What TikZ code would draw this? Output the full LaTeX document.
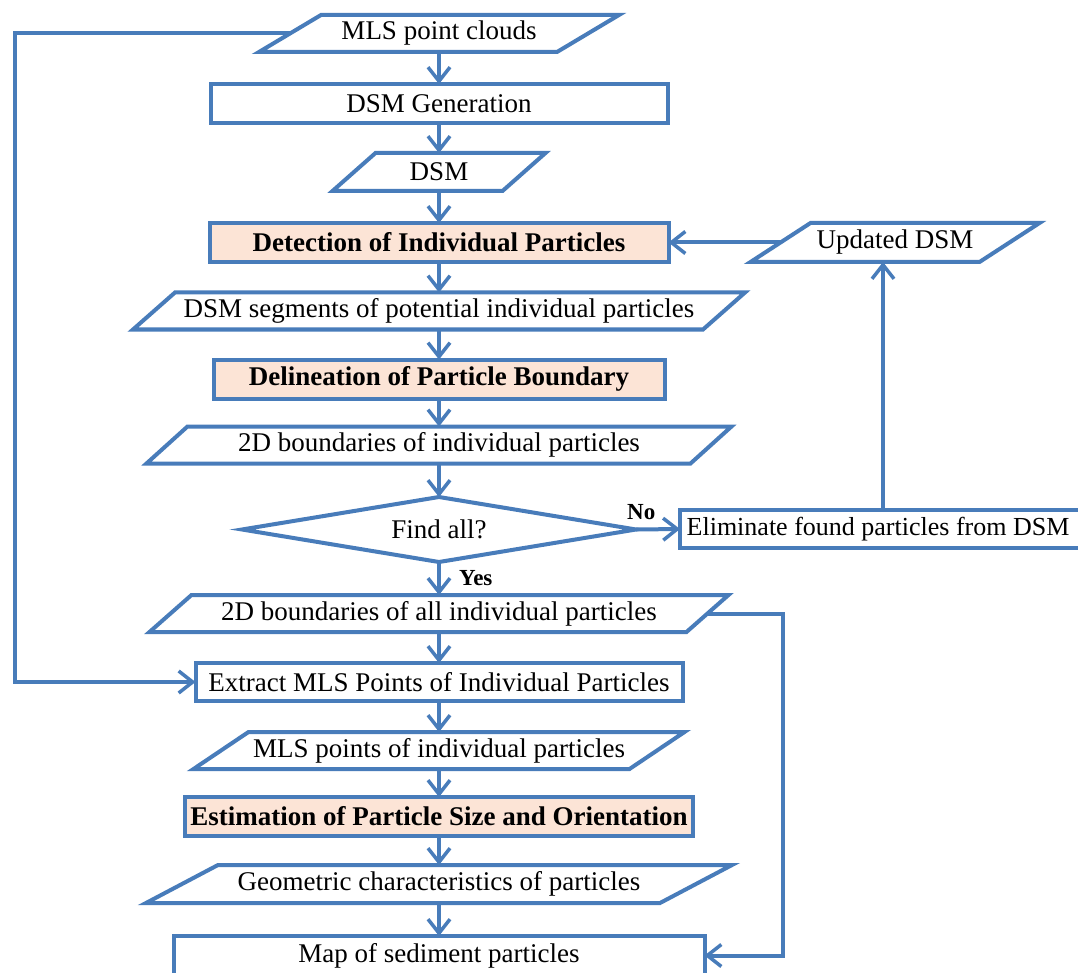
\documentclass[tikz,border=0pt]{standalone}
\usepackage{fontspec}
\setmainfont{Liberation Serif}
\usetikzlibrary{arrows.meta}
\definecolor{lblue}{RGB}{72,124,186}
\definecolor{peach}{RGB}{252,228,214}
\newcommand\txtfont{\fontsize{27}{30}\selectfont}
\newcommand\labfont{\fontsize{23}{26}\selectfont\bfseries}
\newcommand\drawpara[2]{\draw[ln] ([xshift={-0.5*#2}]#1.south west) -- ([xshift={0.5*#2}]#1.north west) -- ([xshift={0.5*#2}]#1.north east) -- ([xshift={-0.5*#2}]#1.south east) -- cycle;}
\tikzset{
  ln/.style={draw=lblue, line width=4pt, line join=miter},
  boxn/.style={rectangle, draw=lblue, line width=4pt, fill=white, inner sep=0pt, outer sep=0pt, font=\txtfont},
  boldn/.style={boxn, fill=peach, font=\txtfont\bfseries},
  paran/.style={rectangle, draw=none, inner sep=0pt, outer sep=0pt, font=\txtfont},
  arr/.style={draw=lblue, line width=4pt, -{Straight Barb[length=14pt,width=22pt,line width=3.5pt]}},
  lab/.style={inner sep=0pt, font=\labfont},
}
\begin{document}
\begin{tikzpicture}[x=1pt, y=-1pt]
\fill[white] (0,0) rectangle (1078,973);
\useasboundingbox (0,0) rectangle (1078,973);

% main column
\node[paran, minimum width=298pt, minimum height=37pt] (mls) at (439,33.5) {MLS point clouds};
\drawpara{mls}{62pt}
\node[boxn, minimum width=457pt, minimum height=39pt] (gen) at (439,103.5) {DSM Generation};
\node[paran, minimum width=170pt, minimum height=38pt] (dsm) at (439,172) {DSM};
\drawpara{dsm}{43pt}
\node[boldn, minimum width=459pt, minimum height=39pt] (det) at (439,242.5) {Detection of Individual Particles};
\node[paran, minimum width=570pt, minimum height=37pt] (seg) at (439,311) {DSM segments of potential individual particles};
\drawpara{seg}{42pt}
\node[boldn, minimum width=451pt, minimum height=39pt] (del) at (439,379) {Delineation of Particle Boundary};
\node[paran, minimum width=544pt, minimum height=37pt] (bnd) at (439,445) {2D boundaries of individual particles};
\drawpara{bnd}{41pt}
\node[paran, minimum width=394pt, minimum height=65pt] (find) at (439,529.5) {Find all?};
\draw[ln] (find.north) -- (find.east) -- (find.south) -- (find.west) -- cycle;
\node[paran, minimum width=537pt, minimum height=37pt] (all) at (439,613.5) {2D boundaries of all individual particles};
\drawpara{all}{42pt}
\node[boxn, minimum width=487pt, minimum height=38pt] (ext) at (439,682) {Extract MLS Points of Individual Particles};
\node[paran, minimum width=436pt, minimum height=37pt] (pts) at (439,750.5) {MLS points of individual particles};
\drawpara{pts}{55pt}
\node[boldn, minimum width=508pt, minimum height=39pt] (est) at (439,816.5) {Estimation of Particle Size and Orientation};
\node[paran, minimum width=514pt, minimum height=38pt] (geo) at (439,884) {Geometric characteristics of particles};
\drawpara{geo}{72pt}
\node[boxn, minimum width=531pt, minimum height=39pt] (map) at (439,955.5) {Map of sediment particles};

% side nodes
\node[boxn, minimum width=406pt, minimum height=38pt, font=\fontsize{26}{30}\selectfont] (elim) at (883,529) {\hspace*{-10pt}Eliminate found particles from DSM};
\node[paran, minimum width=229pt, minimum height=39pt] (upd) at (895,242.5) {Updated DSM};
\drawpara{upd}{60pt}

% main arrows
\draw[arr] (mls.south) -- (gen.north);
\draw[arr] (gen.south) -- (dsm.north);
\draw[arr] (dsm.south) -- (det.north);
\draw[arr] (det.south) -- (seg.north);
\draw[arr] (seg.south) -- (del.north);
\draw[arr] (del.south) -- (bnd.north);
\draw[arr] (bnd.south) -- (find.north);
\draw[arr] (find.south) -- (all.north);
\draw[arr] (all.south) -- (ext.north);
\draw[arr] (ext.south) -- (pts.north);
\draw[arr] (pts.south) -- (est.north);
\draw[arr] (est.south) -- (geo.north);
\draw[arr] (geo.south) -- (map.north);

% decision branches
\draw[arr] (find.east) -- (elim.west);
\node[lab, anchor=base west] (no) at (627,519) {No};
\node[lab, anchor=base west] (yes) at (459,585) {Yes};
\draw[arr] (elim.north) -- (elim.north |- upd.south);
\draw[arr] (upd.west) -- (det.east);

% loops
\coordinate (L) at (15,0);
\coordinate (R) at (783,0);
\draw[arr] (mls.west) -- (L |- mls.west) -- (L |- ext.west) -- (ext.west);
\draw[arr] (all.east) -- (R |- all.east) -- (R |- map.east) -- (map.east);
\end{tikzpicture}
\end{document}
